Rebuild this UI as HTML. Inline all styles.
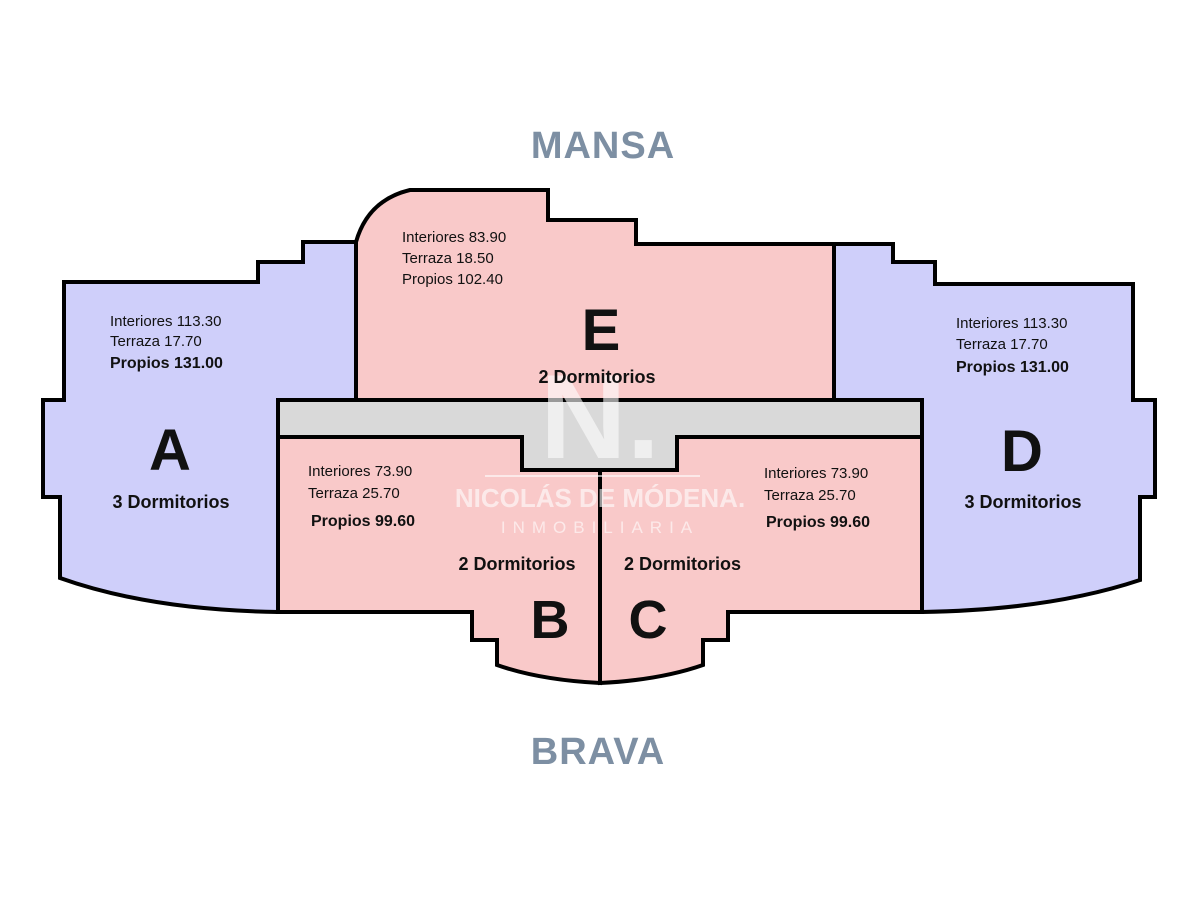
<!DOCTYPE html>
<html><head><meta charset="utf-8"><style>
html,body{margin:0;padding:0;background:#fff;}
svg{display:block;}
text{font-family:"Liberation Sans",Arial,sans-serif;}
</style></head><body>
<svg width="1200" height="900" viewBox="0 0 1200 900" xmlns="http://www.w3.org/2000/svg">
<rect width="1200" height="900" fill="#fff"/>
<text x="603" y="158" text-anchor="middle" font-size="38" font-weight="bold" fill="#7d8fa3" letter-spacing="1">MANSA</text>
<text x="598" y="764" text-anchor="middle" font-size="38" font-weight="bold" fill="#7d8fa3" letter-spacing="1">BRAVA</text>

<g stroke="#000" stroke-width="4" stroke-linejoin="miter">
<!-- A -->
<path d="M64,282 L258,282 L258,262 L303,262 L303,242 L356,242 L356,400 L278,400 L278,612 Q150,610 60,578 L60,497 L43,497 L43,400 L64,400 Z" fill="#cfcffa"/>
<!-- D -->
<path d="M834,244 L893,244 L893,262 L935,262 L935,284 L1133,284 L1133,400 L1155,400 L1155,497 L1140,497 L1140,580 Q1050,610 922,612 L922,400 L834,400 Z" fill="#cfcffa"/>
<!-- E -->
<path d="M356,400 L356,242 Q368,200 410,190 L548,190 L548,220 L636,220 L636,244 L834,244 L834,400 Z" fill="#f9c9c9"/>
<!-- corridor -->
<path d="M278,400 L922,400 L922,437 L677,437 L677,470 L522,470 L522,437 L278,437 Z" fill="#d9d9d9"/>
<!-- B -->
<path d="M278,437 L522,437 L522,470 L600,470 L600,683 Q540,680 497,665 L497,640 L472,640 L472,612 L278,612 Z" fill="#f9c9c9"/>
<!-- C -->
<path d="M600,470 L677,470 L677,437 L922,437 L922,612 L728,612 L728,640 L703,640 L703,665 Q660,680 600,683 Z" fill="#f9c9c9"/>
</g>

<!-- watermark -->
<g fill="#fff" opacity="0.6">
<text x="600" y="458" text-anchor="middle" font-size="120" font-weight="bold">N.</text>
<rect x="485" y="475" width="215" height="2"/>
<text x="600" y="507" text-anchor="middle" font-size="26" font-weight="bold">NICOLÁS DE MÓDENA.</text>
<text x="600" y="533" text-anchor="middle" font-size="17" letter-spacing="7">INMOBILIARIA</text>
</g>

<g fill="#111" font-size="15">
<text x="110" y="326">Interiores 113.30</text>
<text x="110" y="346">Terraza 17.70</text>
<text x="110" y="368" font-weight="bold" font-size="16">Propios 131.00</text>
<text x="170" y="470" text-anchor="middle" font-size="58" font-weight="bold">A</text>
<text x="171" y="508" text-anchor="middle" font-size="18" font-weight="bold">3 Dormitorios</text>

<text x="402" y="242">Interiores 83.90</text>
<text x="402" y="263">Terraza 18.50</text>
<text x="402" y="284">Propios 102.40</text>
<text x="601" y="350" text-anchor="middle" font-size="58" font-weight="bold">E</text>
<text x="597" y="383" text-anchor="middle" font-size="18" font-weight="bold">2 Dormitorios</text>

<text x="956" y="328">Interiores 113.30</text>
<text x="956" y="349">Terraza 17.70</text>
<text x="956" y="372" font-weight="bold" font-size="16">Propios 131.00</text>
<text x="1022" y="471" text-anchor="middle" font-size="58" font-weight="bold">D</text>
<text x="1023" y="508" text-anchor="middle" font-size="18" font-weight="bold">3 Dormitorios</text>

<text x="308" y="476">Interiores 73.90</text>
<text x="308" y="498">Terraza 25.70</text>
<text x="311" y="526" font-weight="bold" font-size="16">Propios 99.60</text>
<text x="517" y="570" text-anchor="middle" font-size="18" font-weight="bold">2 Dormitorios</text>
<text x="550" y="638" text-anchor="middle" font-size="54" font-weight="bold">B</text>

<text x="764" y="478">Interiores 73.90</text>
<text x="764" y="500">Terraza 25.70</text>
<text x="766" y="527" font-weight="bold" font-size="16">Propios 99.60</text>
<text x="624" y="570" font-size="18" font-weight="bold">2 Dormitorios</text>
<text x="648" y="638" text-anchor="middle" font-size="54" font-weight="bold">C</text>
</g>
</svg>
</body></html>
